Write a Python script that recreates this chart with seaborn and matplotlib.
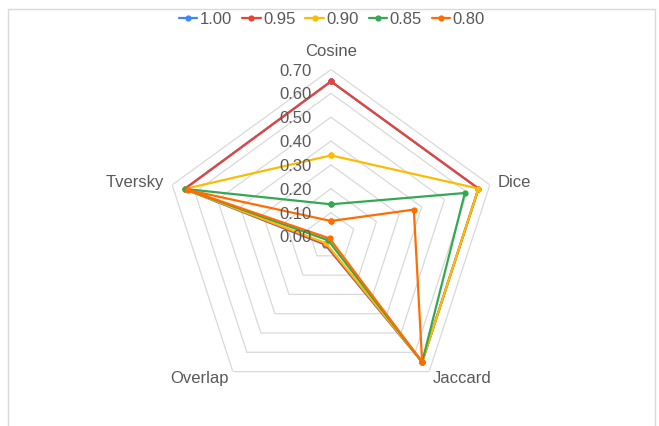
import numpy as np
import pandas as pd
import matplotlib
matplotlib.use("Agg")
import matplotlib.pyplot as plt
from matplotlib.lines import Line2D
from matplotlib.patches import Rectangle
import seaborn as sns

categories = ["Cosine", "Dice", "Jaccard", "Overlap", "Tversky"]
series_names = ["1.00", "0.95", "0.90", "0.85", "0.80"]
vals_100 = [0.65, 0.65, 0.65, 0.042, 0.645]
vals_095 = [0.65, 0.65, 0.65, 0.040, 0.645]
vals_090 = [0.34, 0.65, 0.65, 0.035, 0.645]
vals_085 = [0.135, 0.59, 0.65, 0.020, 0.645]
vals_080 = [0.065, 0.365, 0.65, 0.010, 0.63]
ticks = [0.0, 0.1, 0.2, 0.3, 0.4, 0.5, 0.6, 0.7]
colors = ["#4285F4", "#EA4335", "#FBBC04", "#34A853", "#FF6D01"]

sns.set_style("white")
plt.rcParams["font.family"] = ["Liberation Sans", "DejaVu Sans"]
text_color = "#595959"
grid_color = "#d9d9d9"

W, H = 659, 426
cx, cy, R = 331, 236.5, 167

angles = np.linspace(0, 2 * np.pi, len(categories), endpoint=False)
angles_closed = np.append(angles, 2 * np.pi)

rows = []
for name, vals in zip(series_names, [vals_100, vals_095, vals_090, vals_085, vals_080]):
    for a, v in zip(angles_closed, vals + vals[:1]):
        rows.append({"series": name, "theta": a, "value": v})
df = pd.DataFrame(rows)

fig = plt.figure(figsize=(W / 100, H / 100), dpi=100)
fig.patch.set_facecolor("white")
fig.patches.append(Rectangle((7.5 / W, -0.1), 647 / W, 1.1 - 9.5 / H,
                             transform=fig.transFigure, fill=False,
                             edgecolor=grid_color, lw=1))

ax = fig.add_axes([(cx - R) / W, 1 - (cy + R) / H, 2 * R / W, 2 * R / H], polar=True)
ax.set_theta_offset(np.pi / 2)
ax.set_theta_direction(-1)
ax.set_ylim(0, 0.7)
ax.grid(False)
ax.spines["polar"].set_visible(False)
ax.set_xticks([])
ax.set_yticks([])
ax.patch.set_alpha(0)

# pentagon grid
for t in ticks[1:]:
    ax.plot(angles_closed, [t] * len(angles_closed), color=grid_color, lw=0.9, zorder=0)

sns.lineplot(data=df, x="theta", y="value", hue="series", hue_order=series_names,
             palette=colors, sort=False, estimator=None, marker="o",
             markersize=4.5, markeredgewidth=0, linewidth=1.6, legend=False, ax=ax)
ax.set_xlabel("")
ax.set_ylabel("")

# value labels along the Cosine axis
for t in ticks:
    ax.annotate(f"{t:.2f}", xy=(0, t), xytext=(-19, 0), textcoords="offset pixels",
                ha="right", va="center_baseline", fontsize=12, color=text_color)

# category labels
offsets = {
    "Cosine": ((0, 18), "center"),
    "Dice": ((8, 2.5), "left"),
    "Jaccard": ((4, -7), "left"),
    "Overlap": ((-4, -7), "right"),
    "Tversky": ((-8, 2.5), "right"),
}
for a, cat in zip(angles, categories):
    (dx, dy), ha = offsets[cat]
    ax.annotate(cat, xy=(a, 0.7), xytext=(dx, dy), textcoords="offset pixels",
                ha=ha, va="center", fontsize=12, color=text_color)

handles = [Line2D([0], [0], color=c, lw=1.6, marker="o", markersize=4.5,
                  markeredgewidth=0) for c in colors]
fig.legend(handles, series_names, loc="center", bbox_to_anchor=(332 / W, 1 - 19 / H),
           ncol=5, frameon=False, fontsize=12, handlelength=1.1, handletextpad=0.15,
           columnspacing=0.6, labelcolor=text_color)

fig.savefig("out.png", dpi=100)
